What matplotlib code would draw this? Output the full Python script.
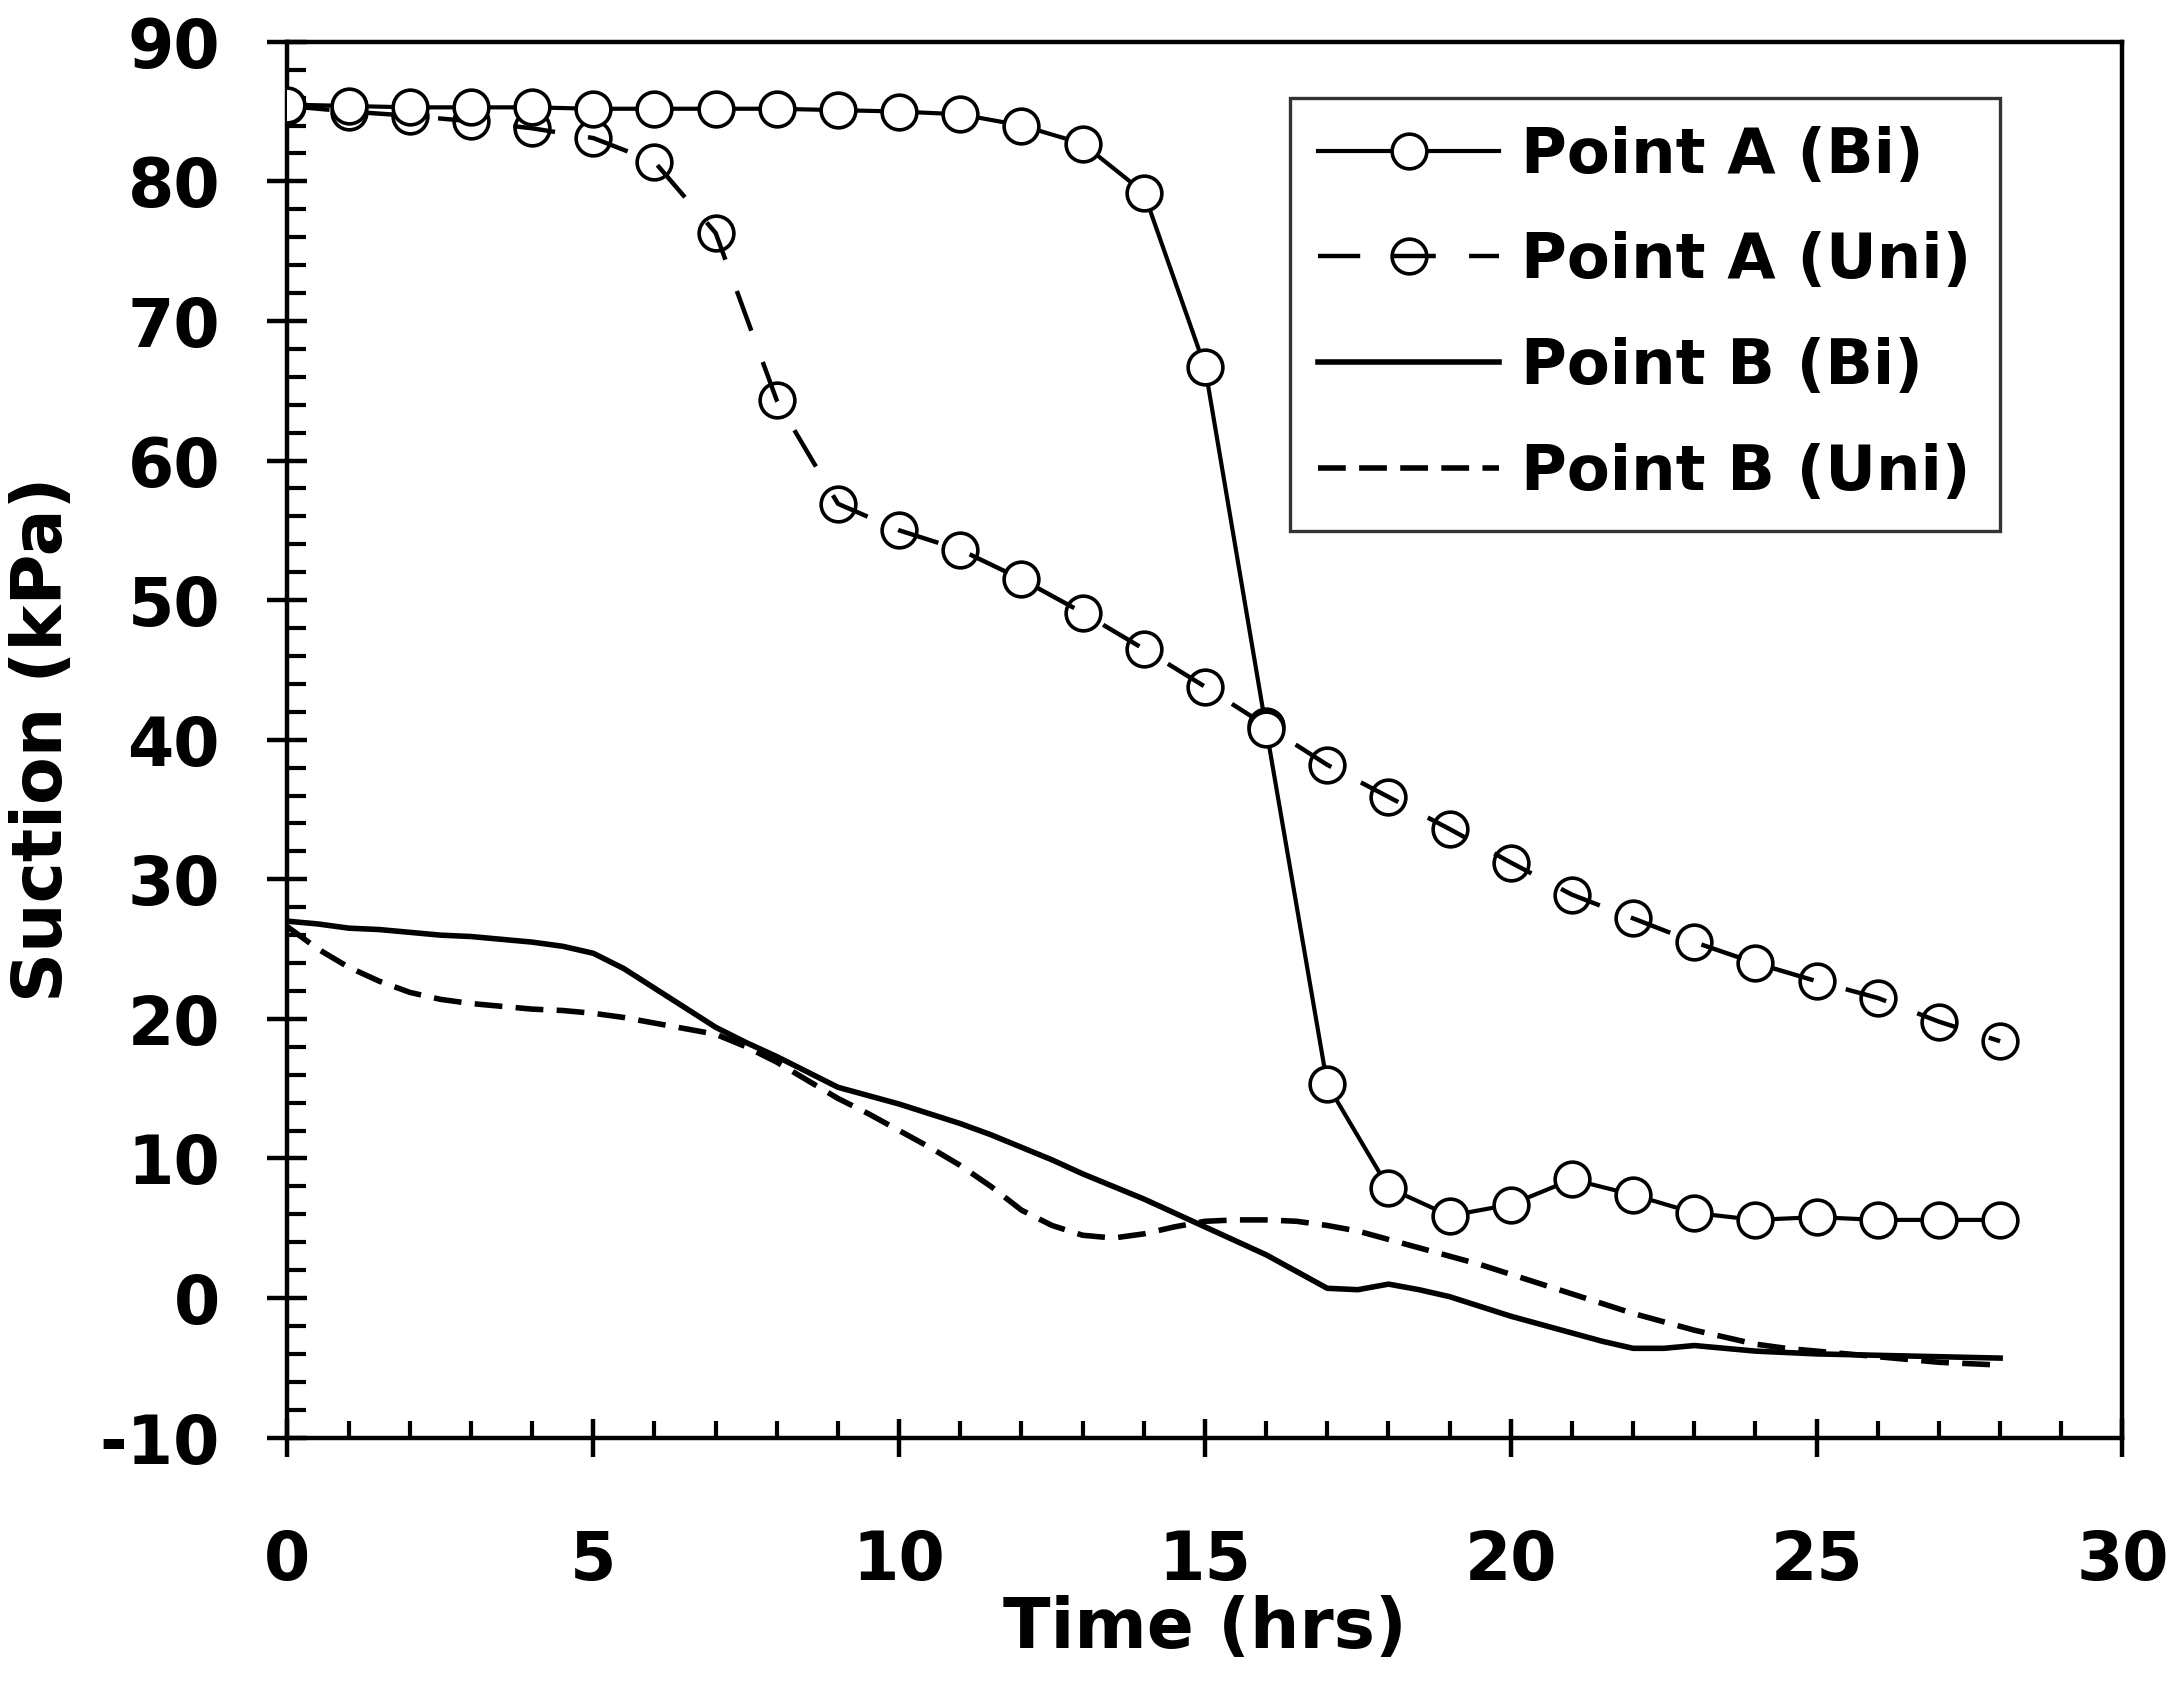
import matplotlib
matplotlib.use('Agg')
import matplotlib.pyplot as plt
from matplotlib.ticker import MultipleLocator

# Time axis (hours): markers every hour for point A, half-hour readings for point B
hours = list(range(0, 29))
half_hours = [i * 0.5 for i in range(57)]

# Suction (kPa)
point_a_bi = [85.5, 85.4, 85.3, 85.3, 85.3, 85.2, 85.2, 85.2, 85.2, 85.1,
              85.0, 84.8, 84.0, 82.7, 79.2, 66.7, 40.8, 15.3, 7.9, 5.9,
              6.7, 8.5, 7.4, 6.1, 5.6, 5.8, 5.6, 5.6, 5.6]
point_a_uni = [85.4, 85.0, 84.7, 84.3, 83.8, 83.1, 81.4, 76.3, 64.3, 56.9,
               55.0, 53.6, 51.5, 49.1, 46.5, 43.8, 41.0, 38.2, 35.9, 33.6,
               31.2, 28.9, 27.2, 25.5, 24.0, 22.7, 21.5, 19.8, 18.4]
point_b_bi = [27.0, 26.8, 26.5, 26.4, 26.2, 26.0, 25.9, 25.7, 25.5, 25.2,
              24.7, 23.6, 22.2, 20.8, 19.4, 18.3, 17.3, 16.2, 15.1, 14.5,
              13.9, 13.2, 12.5, 11.7, 10.8, 9.9, 8.9, 8.0, 7.1, 6.1,
              5.1, 4.1, 3.1, 1.9, 0.7, 0.6, 1.0, 0.6, 0.1, -0.6,
              -1.3, -1.9, -2.5, -3.1, -3.6, -3.6, -3.4, -3.6, -3.8, -3.9,
              -4.0, -4.05, -4.1, -4.15, -4.2, -4.25, -4.3]
point_b_uni = [26.6, 25.0, 23.7, 22.7, 21.9, 21.4, 21.1, 20.9, 20.7, 20.6,
               20.4, 20.1, 19.7, 19.3, 18.9, 18.0, 16.9, 15.6, 14.3, 13.2,
               12.0, 10.8, 9.5, 8.0, 6.3, 5.2, 4.5, 4.3, 4.6, 5.1,
               5.5, 5.6, 5.6, 5.5, 5.2, 4.8, 4.2, 3.6, 3.0, 2.4,
               1.7, 1.0, 0.3, -0.4, -1.1, -1.7, -2.3, -2.8, -3.3, -3.6,
               -3.8, -4.0, -4.2, -4.4, -4.6, -4.7, -4.8]

x_ticks = [0, 5, 10, 15, 20, 25, 30]
y_ticks = [-10, 0, 10, 20, 30, 40, 50, 60, 70, 80, 90]

plt.rcParams['font.family'] = ['DejaVu Sans']
plt.rcParams['font.weight'] = 'bold'
plt.rcParams['axes.unicode_minus'] = False

fig = plt.figure(figsize=(21.78, 17.04), dpi=100)
ax = fig.add_axes([0.132, 0.1563, 0.8425, 0.8192])

# Point A (Bi) - solid line, white-filled circles
ax.plot(hours, point_a_bi, color='black', linewidth=3.0, marker='o',
        markersize=25, markerfacecolor='white', markeredgecolor='black',
        markeredgewidth=2.6, label='Point A (Bi)', zorder=4)

# Point A (Uni) - long dashes, hollow circles
ax.plot(hours, point_a_uni, color='black', linewidth=3.2, dashes=(9.5, 7.5),
        marker='o', markersize=25, markerfacecolor='none', markeredgecolor='black',
        markeredgewidth=2.6, label='Point A (Uni)', zorder=3)

# Point B (Bi) - solid line
ax.plot(half_hours, point_b_bi, color='black', linewidth=4.0, label='Point B (Bi)', zorder=2)

# Point B (Uni) - short dashes
ax.plot(half_hours, point_b_uni, color='black', linewidth=4.0, dashes=(5, 2.4),
        label='Point B (Uni)', zorder=2)

ax.set_xlim(0, 30)
ax.set_ylim(-10, 90)
ax.set_xticks(x_ticks)
ax.set_yticks(y_ticks)
ax.xaxis.set_minor_locator(MultipleLocator(1))
ax.yaxis.set_minor_locator(MultipleLocator(2))

ax.tick_params(axis='both', which='major', direction='inout', width=3.2,
               labelsize=48, color='black')
ax.tick_params(axis='x', which='major', length=28, pad=51)
ax.tick_params(axis='y', which='major', length=29, pad=34)
ax.tick_params(axis='x', which='minor', direction='in', length=12, width=3.0)
ax.tick_params(axis='y', which='minor', direction='in', length=14, width=3.0)

for spine in ax.spines.values():
    spine.set_linewidth(3.2)
    spine.set_color('black')

for lbl in ax.get_xticklabels() + ax.get_yticklabels():
    lbl.set_fontweight('bold')

ax.set_xlabel('Time (hrs)', fontsize=50, fontweight='bold')
ax.set_ylabel('Suction (kPa)', fontsize=50, fontweight='bold')
ax.xaxis.set_label_coords(0.5, -0.113)
ax.yaxis.set_label_coords(-0.115, 0.5)

leg = ax.legend(loc='upper right', bbox_to_anchor=(0.933, 0.960),
                borderaxespad=0, fontsize=45, frameon=True, fancybox=False,
                handlelength=2.9, handletextpad=0.35, borderpad=0.45,
                labelspacing=0.73, numpoints=1)
leg.get_frame().set_edgecolor('black')
leg.get_frame().set_linewidth(2.4)
for txt in leg.get_texts():
    txt.set_fontweight('bold')

fig.savefig('out.png', dpi=100)
plt.close(fig)
